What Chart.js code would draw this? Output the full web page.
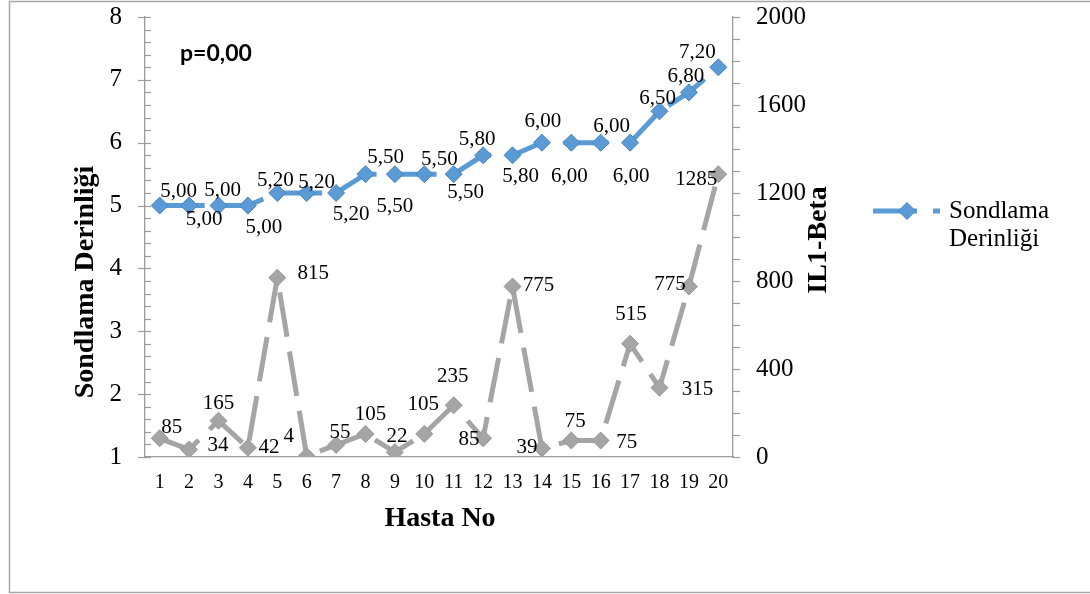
<!DOCTYPE html>
<html>
<head>
<meta charset="utf-8">
<script src="https://cdn.jsdelivr.net/npm/chart.js@4.4.1/dist/chart.umd.min.js"></script>
<style>
  html, body { margin: 0; padding: 0; background: #ffffff; }
  canvas { display: block; }
</style>
</head>
<body>
<canvas id="chart" width="1090" height="594"></canvas>
<script>
// Patient numbers on the category axis
const hastaNo = ['1','2','3','4','5','6','7','8','9','10','11','12','13','14','15','16','17','18','19','20'];

// Probing depth (left axis)
const sondlamaDerinligi = [5.00, 5.00, 5.00, 5.00, 5.20, 5.20, 5.20, 5.50, 5.50, 5.50,
                           5.50, 5.80, 5.80, 6.00, 6.00, 6.00, 6.00, 6.50, 6.80, 7.20];

// IL1-Beta level (right axis)
const il1Beta = [85, 34, 165, 42, 815, 4, 55, 105, 22, 105,
                 235, 85, 775, 39, 75, 75, 515, 315, 775, 1285];

// Axis ranges / steps
const leftAxisRange = [1, 8];
const leftAxisStep = 1;
const rightAxisRange = [0, 2000];
const rightAxisStep = 400;

// Where each value label sits relative to its point (dx, dy in px)
const sondlamaLabelOffsets = [
  [19,-14],[15,14],[4,-15],[16,22],[-2,-13],[10,-11],[15,21],[20,-17],[0,32],[15,-15],
  [12,18],[-6,-16],[8,21],[1,-21],[-2,34],[11,-16],[1,34],[-2,-13],[-3,-16],[-21,-15]
];
const il1LabelOffsets = [
  [12,-11],[29,-4],[0,-17],[21,0],[36,-4],[-18,-20],[4,-12],[5,-19],[2,-16],[-1,-29],
  [-1,-29],[-14,1],[26,-1],[-15,-1],[4,-19],[26,2],[1,-29],[38,2],[-19,-2],[-22,5]
];

const SERIF = "'Liberation Serif', 'Times New Roman', serif";
const BLUE = '#5B9BD5';
const GRAY = '#A5A5A5';
const AXIS = '#9c9c9c';

const fmtDepth = v => v.toFixed(2).replace('.', ',');

const decor = {
  id: 'decor',
  beforeDraw(chart) {
    const ctx = chart.ctx;
    ctx.save();
    ctx.fillStyle = '#ffffff';
    ctx.fillRect(0, 0, chart.width, chart.height);
    ctx.strokeStyle = '#a6a6a6';
    ctx.lineWidth = 1.5;
    ctx.strokeRect(9.5, 1.5, chart.width + 20, 591);
    ctx.restore();
  },
  afterDatasetsDraw(chart) {
    const ctx = chart.ctx;
    ctx.save();
    ctx.font = '21px ' + SERIF;
    ctx.fillStyle = '#000000';
    ctx.textAlign = 'center';
    ctx.textBaseline = 'middle';
    const m0 = chart.getDatasetMeta(0);
    m0.data.forEach((pt, i) => {
      const o = sondlamaLabelOffsets[i];
      ctx.fillText(fmtDepth(sondlamaDerinligi[i]), pt.x + o[0], pt.y + o[1]);
    });
    const m1 = chart.getDatasetMeta(1);
    m1.data.forEach((pt, i) => {
      const o = il1LabelOffsets[i];
      ctx.fillText(String(il1Beta[i]), pt.x + o[0], pt.y + o[1]);
    });
    ctx.restore();
  },
  afterDraw(chart) {
    const ctx = chart.ctx;
    const ys = chart.scales.y;
    const yr = chart.scales.y1;
    const area = chart.chartArea;
    ctx.save();
    ctx.strokeStyle = AXIS;
    ctx.lineWidth = 1.2;
    // left axis: major ticks cross the line, minor ticks point inward
    for (let k = 0; k <= (ys.max - ys.min) * 5 + 1e-6; k++) {
      const v = ys.min + k * 0.2;
      const py = Math.round(ys.getPixelForValue(v)) + 0.5;
      const major = k % 5 === 0;
      ctx.beginPath();
      ctx.moveTo(area.left - (major ? 7 : 0), py);
      ctx.lineTo(area.left + 6, py);
      ctx.stroke();
    }
    // right axis: outward ticks every 100
    for (let v = yr.min; v <= yr.max + 1e-6; v += 100) {
      const py = Math.round(yr.getPixelForValue(v)) + 0.5;
      ctx.beginPath();
      ctx.moveTo(area.right, py);
      ctx.lineTo(area.right + 7, py);
      ctx.stroke();
    }
    ctx.restore();

    // axis titles
    ctx.save();
    ctx.fillStyle = '#000000';
    ctx.font = 'bold 28px ' + SERIF;
    ctx.textAlign = 'center';
    ctx.textBaseline = 'middle';
    ctx.save();
    ctx.translate(86, 282);
    ctx.rotate(-Math.PI / 2);
    ctx.fillText('Sondlama Derinliği', 0, 0);
    ctx.restore();
    ctx.save();
    ctx.translate(819, 240);
    ctx.rotate(-Math.PI / 2);
    ctx.fillText('IL1-Beta', 0, 0);
    ctx.restore();
    ctx.textBaseline = 'alphabetic';
    ctx.fillText('Hasta No', 440, 526);

    // p value
    ctx.font = "bold 23px Lato, 'Open Sans', sans-serif";
    ctx.textAlign = 'left';
    ctx.fillText('p=0,00', 180, 61);

    // legend (depth series only)
    const ds = chart.data.datasets[0];
    ctx.strokeStyle = ds.borderColor;
    ctx.lineWidth = 5;
    ctx.setLineDash([44, 16]);
    ctx.beginPath();
    ctx.moveTo(873, 211);
    ctx.lineTo(940, 211);
    ctx.stroke();
    ctx.setLineDash([]);
    ctx.fillStyle = ds.pointBackgroundColor;
    ctx.strokeStyle = ds.pointBorderColor;
    ctx.lineWidth = 1;
    ctx.beginPath();
    ctx.moveTo(907 - 8.5, 211);
    ctx.lineTo(907, 211 - 8.5);
    ctx.lineTo(907 + 8.5, 211);
    ctx.lineTo(907, 211 + 8.5);
    ctx.closePath();
    ctx.fill();
    ctx.stroke();
    ctx.fillStyle = '#000000';
    ctx.font = '25px ' + SERIF;
    ctx.textAlign = 'left';
    ctx.fillText('Sondlama', 949, 218);
    ctx.fillText('Derinliği', 949, 246);
    ctx.restore();
  }
};

function fixVertical(width) {
  return function (scale) {
    scale.width = width;
    scale.paddingTop = 0;
    scale.paddingBottom = 0;
  };
}

new Chart(document.getElementById('chart'), {
  type: 'line',
  data: {
    labels: hastaNo,
    datasets: [
      {
        label: 'Sondlama Derinliği',
        data: sondlamaDerinligi,
        yAxisID: 'y',
        borderColor: BLUE,
        borderWidth: 5,
        borderDash: [45, 15],
        pointStyle: 'rectRot',
        pointRadius: 8.5,
        pointBackgroundColor: BLUE,
        pointBorderColor: '#4a84bd',
        pointBorderWidth: 1,
        tension: 0,
        fill: false
      },
      {
        label: 'IL1-Beta',
        data: il1Beta,
        yAxisID: 'y1',
        borderColor: GRAY,
        borderWidth: 5,
        borderDash: [45, 15],
        pointStyle: 'rectRot',
        pointRadius: 8.5,
        pointBackgroundColor: GRAY,
        pointBorderColor: '#999999',
        pointBorderWidth: 1,
        tension: 0,
        fill: false
      }
    ]
  },
  options: {
    responsive: false,
    animation: false,
    devicePixelRatio: 1,
    layout: { padding: { left: 0, right: 257, top: 17, bottom: 0 } },
    plugins: {
      legend: { display: false },
      tooltip: { enabled: false },
      title: { display: false }
    },
    scales: {
      x: {
        offset: true,
        grid: { display: false, drawTicks: false },
        border: { display: true, color: AXIS, width: 1.3 },
        ticks: {
          font: { family: SERIF, size: 20 },
          color: '#000000',
          padding: 14,
          autoSkip: false,
          maxRotation: 0
        },
        afterFit(scale) {
          scale.height = 137;
          scale.paddingLeft = 0;
          scale.paddingRight = 0;
        }
      },
      y: {
        position: 'left',
        min: leftAxisRange[0],
        max: leftAxisRange[1],
        grid: { drawOnChartArea: false, drawTicks: false },
        border: { display: true, color: AXIS, width: 1.3 },
        ticks: {
          stepSize: leftAxisStep,
          font: { family: SERIF, size: 25 },
          color: '#000000',
          padding: 23,
          callback: v => String(v)
        },
        afterFit: fixVertical(145)
      },
      y1: {
        position: 'right',
        min: rightAxisRange[0],
        max: rightAxisRange[1],
        grid: { drawOnChartArea: false, drawTicks: false },
        border: { display: true, color: AXIS, width: 1.3 },
        ticks: {
          stepSize: rightAxisStep,
          font: { family: SERIF, size: 25 },
          color: '#000000',
          padding: 23,
          callback: v => String(v)
        },
        afterFit: fixVertical(100)
      }
    }
  },
  plugins: [decor]
});
</script>
</body>
</html>
